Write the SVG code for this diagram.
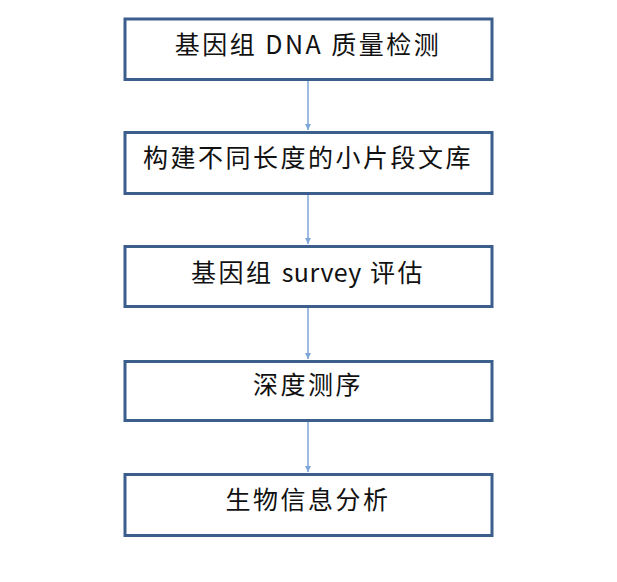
<svg xmlns="http://www.w3.org/2000/svg" width="617" height="582" viewBox="0 0 617 582">
<style>
.box{fill:#fff;stroke:#3b5e8c;stroke-width:3}
.lbl{font-family:"Noto Sans CJK SC","Noto Sans",sans-serif;font-size:25px;fill:#111;text-anchor:middle;letter-spacing:2.5px}
.lat{letter-spacing:0.5px}
.con{stroke:#7ea6d8;stroke-width:1.5;fill:none}
</style>
<defs>
<marker id="ah" viewBox="0 0 10 10" refX="10" refY="5" markerWidth="4" markerHeight="4" orient="auto" markerUnits="strokeWidth">
<path d="M0,0 L10,5 L0,10 z" fill="#7ea6d8"/>
</marker>
</defs>
<rect width="617" height="582" fill="#fff"/>
<g id="connectors">
<line class="con" x1="308" y1="81" x2="308" y2="130" marker-end="url(#ah)"/>
<line class="con" x1="308" y1="195" x2="308" y2="244" marker-end="url(#ah)"/>
<line class="con" x1="308" y1="308" x2="308" y2="359" marker-end="url(#ah)"/>
<line class="con" x1="308" y1="422" x2="308" y2="472" marker-end="url(#ah)"/>
</g>
<g id="n1"><rect class="box" x="125" y="19" width="367" height="60.5"/><text class="lbl" x="308" y="54">基因组 DNA 质量检测</text></g>
<g id="n2"><rect class="box" x="125" y="132.5" width="367" height="61"/><text class="lbl" x="308" y="167">构建不同长度的小片段文库</text></g>
<g id="n3"><rect class="box" x="125" y="246.5" width="367" height="60"/><text class="lbl" x="308" y="282">基因组 <tspan class="lat">survey</tspan> 评估</text></g>
<g id="n4"><rect class="box" x="125" y="361.5" width="367" height="59"/><text class="lbl" x="308" y="394">深度测序</text></g>
<g id="n5"><rect class="box" x="125" y="474.5" width="367" height="61"/><text class="lbl" x="308" y="509">生物信息分析</text></g>
</svg>
